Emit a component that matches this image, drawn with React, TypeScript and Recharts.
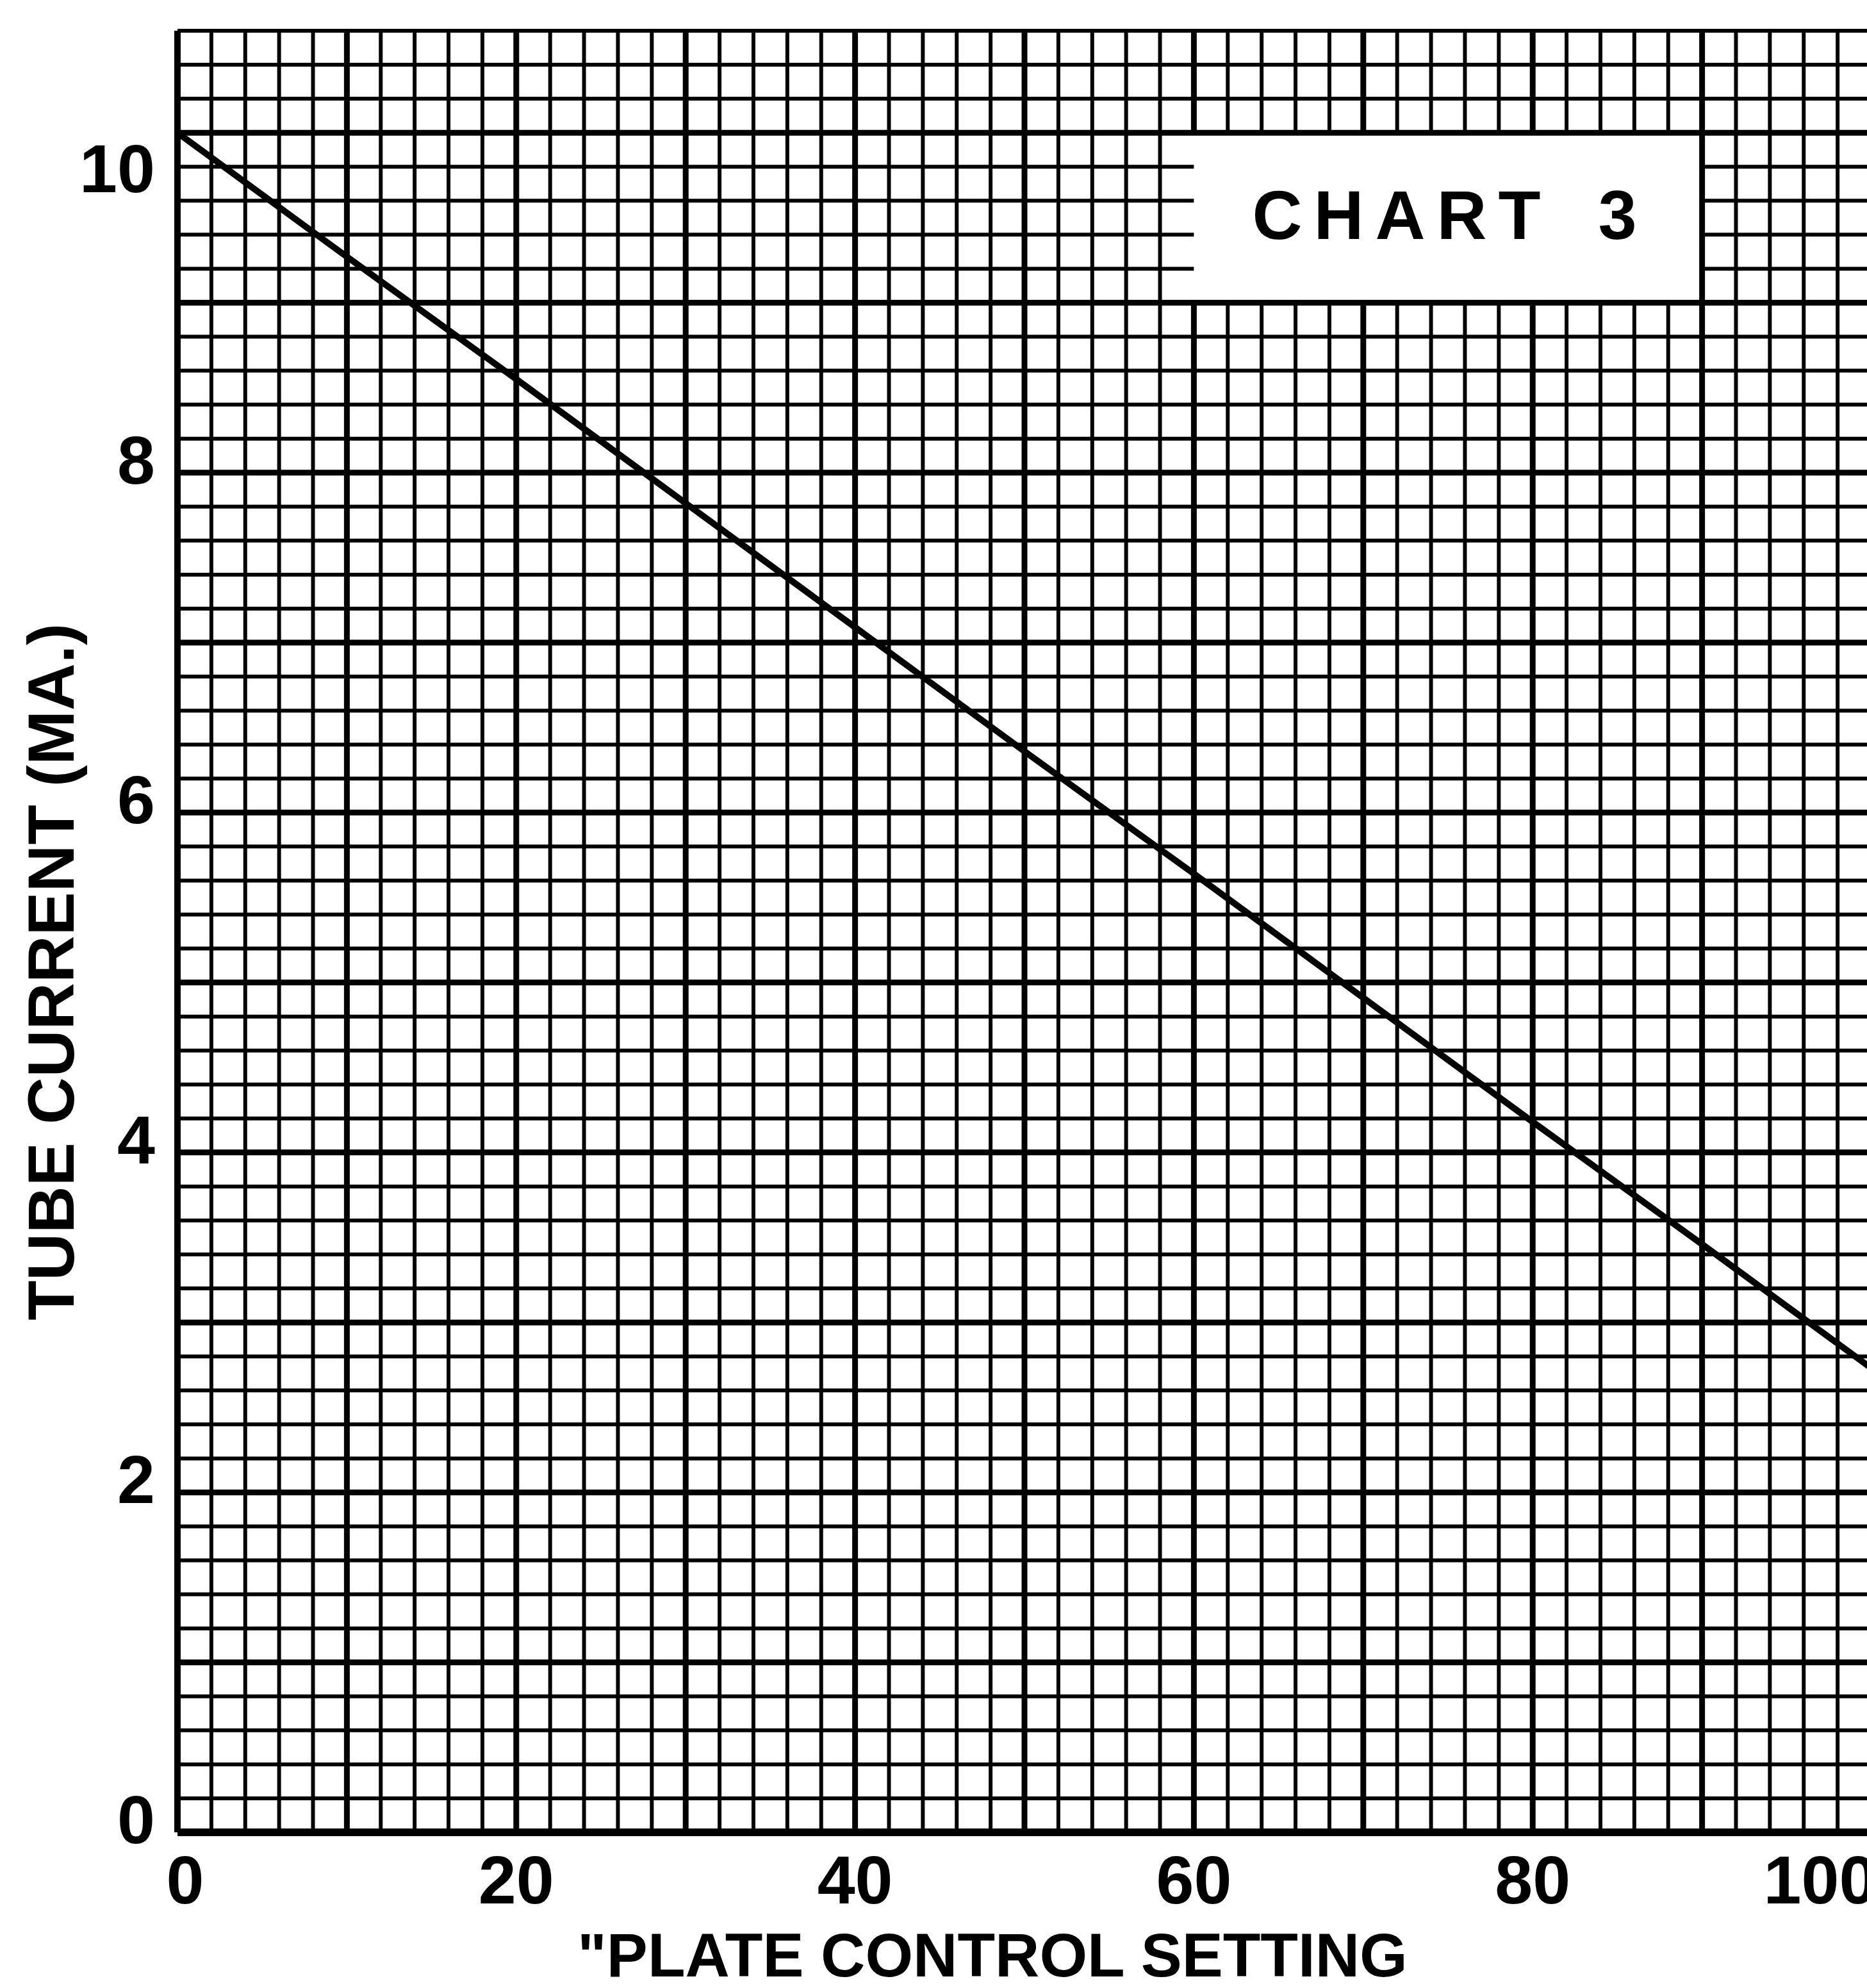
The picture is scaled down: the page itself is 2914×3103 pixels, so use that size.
import { LineChart, Line, XAxis, YAxis, ReferenceLine, ReferenceArea } from 'recharts';

// values
const plateSetting = [0, 10, 20, 30, 40, 50, 60, 70, 80, 90, 100];
const tubeCurrent = [10.0, 9.27, 8.55, 7.82, 7.09, 6.36, 5.64, 4.91, 4.18, 3.46, 2.73];
const xTickLabels = [0, 20, 40, 60, 80, 100];
const yTickLabels = [0, 2, 4, 6, 8, 10];
const xTitle = '"PLATE CONTROL SETTING';
const yTitle = 'TUBE CURRENT (MA.)';
const boxTitle = 'CHART\u20023';

// white panel holding the chart title, in data units
const box = { x1: 58, x2: 90, y1: 9, y2: 10 };
const X_MAX = 100;
const Y_MAX = 10.6;

// graph paper rulings
const xRulings = Array.from({ length: 51 }, (_, i) => i * 2);
const yRulings = Array.from({ length: 54 }, (_, i) => Math.round(i * 2) / 10);

const data = plateSetting.map((x, i) => ({ x, y: tubeCurrent[i] }));

const SANS = "'Liberation Sans', Arial, sans-serif";
const NARROW = "'Liberation Sans Narrow', 'Liberation Sans', Arial, sans-serif";

function YTick(props: any) {
  const { x, y, payload } = props;
  // the printed "10" sits a little below its ruling
  const off = payload.value === 10 ? 56 : -20;
  return (
    <text x={x} y={y + off} textAnchor="end" dominantBaseline="central"
      fontFamily={NARROW} fontWeight={700} fontSize={106} fill="#000">
      {payload.value}
    </text>
  );
}

function XTick(props: any) {
  const { x, y, payload } = props;
  let dx = 0;
  if (payload.value === 0) dx = 12;
  if (payload.value === 100) dx = -80;
  return (
    <text x={x + dx} y={y + 40} textAnchor="middle" dominantBaseline="central"
      fontFamily={NARROW} fontWeight={700} fontSize={106} fill="#000">
      {payload.value}
    </text>
  );
}

function YTitle(props: any) {
  const vb = props.viewBox;
  const cx = vb.x + 80;
  const cy = vb.y + vb.height / 2 + 63;
  return (
    <text x={cx} y={cy} transform={`rotate(-90 ${cx} ${cy})`} textAnchor="middle" dominantBaseline="central"
      fontFamily={SANS} fontWeight={700} fontSize={102} fill="#000">
      {yTitle}
    </text>
  );
}

function XTitle(props: any) {
  const vb = props.viewBox;
  const cx = vb.x + vb.width / 2 - 50;
  const cy = vb.y + 191;
  return (
    <text x={cx} y={cy} textAnchor="middle" dominantBaseline="central"
      fontFamily={SANS} fontWeight={700} fontSize={96} fill="#000">
      {xTitle}
    </text>
  );
}

function BoxTitle(props: any) {
  const vb = props.viewBox;
  return (
    <text x={vb.x + vb.width / 2 + 30} y={vb.y + vb.height / 2 - 4} textAnchor="middle" dominantBaseline="central"
      fontFamily={SANS} fontWeight={700} fontSize={108} letterSpacing={18} fill="#000">
      {boxTitle}
    </text>
  );
}

// split a ruling so it stops at the title panel
function vSegments(v: number) {
  if (v > box.x1 && v < box.x2) {
    return [[0, box.y1], [box.y2, Y_MAX]];
  }
  return [[0, Y_MAX]];
}

function hSegments(v: number) {
  if (v > box.y1 && v < box.y2) {
    // short minor stubs stay attached to the left edge of the panel
    return [[0, box.x1 + 2], [box.x2, X_MAX]];
  }
  return [[0, X_MAX]];
}

export default function App() {
  return (
    <div style={{ position: 'absolute', left: 0, top: 0, width: 2914, height: 3103, overflow: 'hidden', background: '#fff' }}>
      <LineChart width={2960} height={3103} data={data} margin={{ top: 48, right: 39, bottom: 0, left: 0 }}>
        <XAxis dataKey="x" type="number" domain={[0, X_MAX]} ticks={xTickLabels} interval={0}
          tick={<XTick />} tickLine={false} tickSize={0} tickMargin={34} height={243}
          axisLine={{ stroke: '#000', strokeWidth: 12 }} label={XTitle} />
        <YAxis type="number" domain={[0, Y_MAX]} ticks={yTickLabels} interval={0} allowDataOverflow
          tick={<YTick />} tickLine={false} tickSize={0} tickMargin={35} width={277}
          axisLine={{ stroke: '#000', strokeWidth: 10 }} label={YTitle} />
        {xRulings.map((v) =>
          vSegments(v).map(([a, b], k) => (
            <ReferenceLine key={'x' + v + '-' + k} segment={[{ x: v, y: a }, { x: v, y: b }]}
              stroke="#000" strokeWidth={v % 10 === 0 ? 9 : 6} />
          ))
        )}
        {yRulings.map((v) =>
          hSegments(v).map(([a, b], k) => (
            <ReferenceLine key={'y' + v + '-' + k} segment={[{ x: a, y: v }, { x: b, y: v }]}
              stroke="#000" strokeWidth={Number.isInteger(v) ? 9 : 6} />
          ))
        )}
        <ReferenceArea x1={box.x1} x2={box.x2} y1={box.y1} y2={box.y2} fill="#fff" fillOpacity={0}
          stroke="none" label={BoxTitle} />
        <Line dataKey="y" type="linear" stroke="#000" strokeWidth={10} dot={false} isAnimationActive={false} />
      </LineChart>
    </div>
  );
}
